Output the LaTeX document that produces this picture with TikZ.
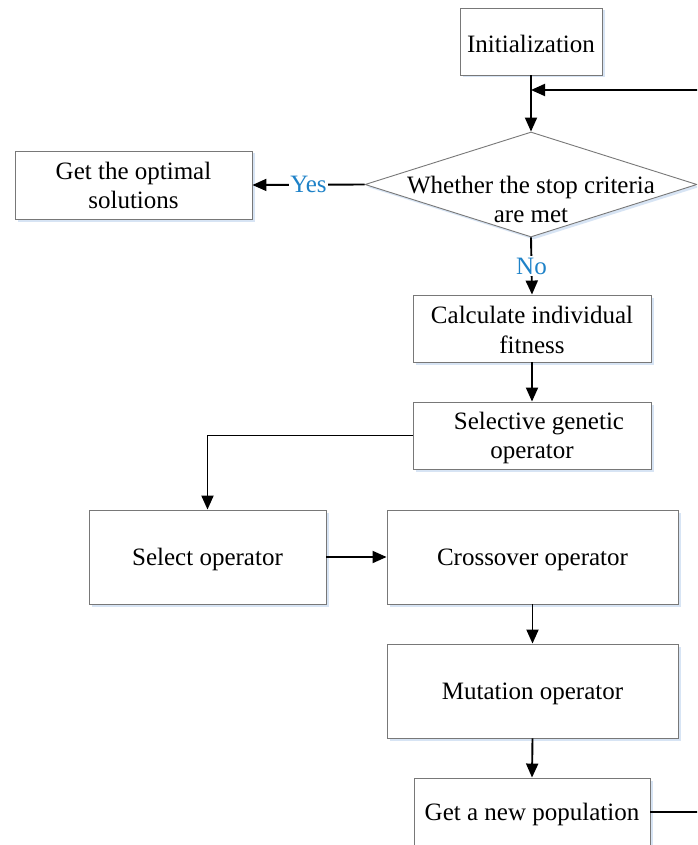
\documentclass[tikz,border=0pt]{standalone}
\usepackage{fontspec}
\setmainfont{Liberation Serif}
\usetikzlibrary{shapes.geometric,arrows.meta,shadows}
\definecolor{lblblue}{RGB}{30,130,200}
\definecolor{shadowblue}{RGB}{205,222,242}
\definecolor{boxgray}{RGB}{120,120,120}
\begin{document}
\begin{tikzpicture}[x=1pt,y=-1pt,
  font=\fontsize{25}{29.5}\selectfont,
  box/.style={draw=boxgray, line width=0.9pt, fill=white, inner sep=0pt,
    drop shadow={shadow xshift=2.5pt, shadow yshift=-2.5pt, fill=shadowblue, opacity=0.8}},
  txt/.style={align=center, inner sep=0pt},
  arr/.style={draw=black, line width=1.9pt, -{Triangle[length=14pt,width=12pt]}},
  ln/.style={draw=black, line width=1.9pt},
  lbl/.style={fill=white, inner sep=1.5pt, text=lblblue}]
\useasboundingbox (0,0) rectangle (697,845);
\clip (0,0) rectangle (697,845);
\fill[white] (0,0) rectangle (697,845);

\node[box, minimum width=142, minimum height=67] (init) at (531,41.5) {};
\node[box, diamond, minimum width=332, minimum height=105] (dec) at (531,184.5) {};
\node[box, minimum width=237, minimum height=68] (opt) at (133.5,185) {};
\node[box, minimum width=238, minimum height=67] (fit) at (532,328.5) {};
\node[box, minimum width=238, minimum height=67] (sel) at (532,435.5) {};
\node[box, minimum width=237, minimum height=94] (selop) at (207.5,557) {};
\node[box, minimum width=291, minimum height=94] (cross) at (532.5,557) {};
\node[box, minimum width=291, minimum height=94] (mut) at (532.5,691) {};
\node[box, minimum width=236, minimum height=68] (pop) at (532,812) {};

\node[txt] (initT) at ([yshift=-2pt]init.center) {Initialization};
\node[txt] (decT) at (531,199.5) {Whether the stop criteria\\are met};
\node[txt] (optT) at ([yshift=-0.5pt]opt.center) {Get the optimal\\solutions};
\node[txt] (fitT) at ([yshift=-1.5pt]fit.center) {Calculate individual\\fitness};
\node[txt] (selT) at ([yshift=-2.5pt]sel.center) {\hspace*{14pt}Selective genetic\\operator};
\node[txt] (selopT) at ([yshift=-2.5pt]selop.center) {Select operator};
\node[txt] (crossT) at ([yshift=-2.5pt]cross.center) {Crossover operator};
\node[txt] (mutT) at ([yshift=-2.5pt]mut.center) {Mutation operator};
\node[txt] (popT) at ([yshift=-2.5pt]pop.center) {Get a new population};

\coordinate (loopin) at (init.south |- 0,90);
\coordinate (loopright) at (720,90);

\draw[arr] (init.south) -- (dec.north);
\draw[ln] (pop.east) -- (pop.east -| loopright) -- (loopright);
\draw[arr] (loopright) -- (loopin);
\draw[arr] (dec.west) -- node[lbl]{Yes} (opt.east);
\draw[arr] (dec.south) -- node[lbl]{No} (fit.north);
\draw[arr] (fit.south) -- (sel.north);
\draw[arr] (sel.west) -| (selop.north);
\draw[arr] (selop.east) -- (cross.west);
\draw[arr] (cross.south) -- (mut.north);
\draw[arr] (mut.south) -- (pop.north);
\end{tikzpicture}
\end{document}
